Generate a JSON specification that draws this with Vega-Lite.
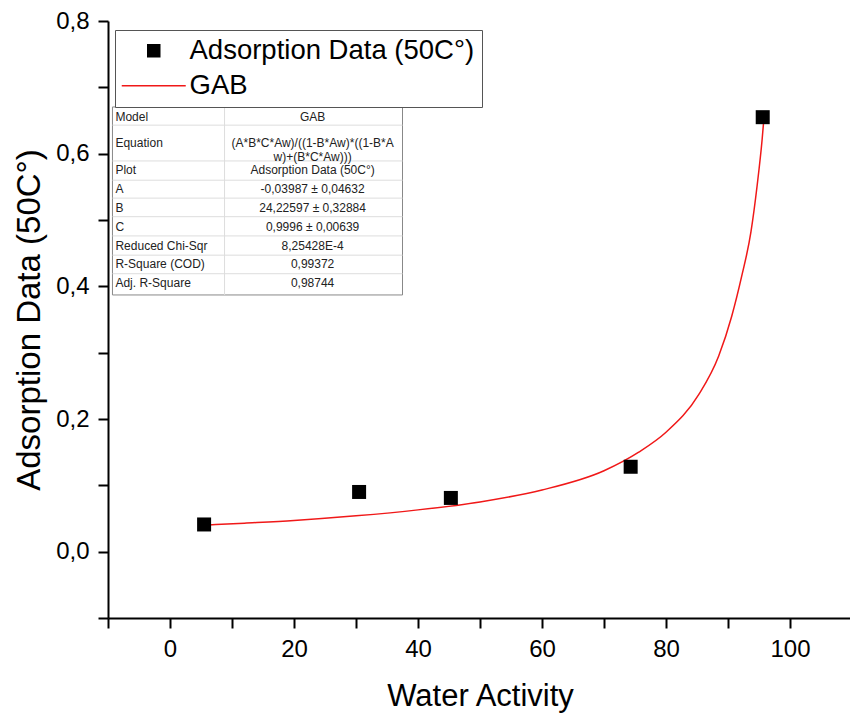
{
  "$schema": "https://vega.github.io/schema/vega-lite/v6.json",
  "width": 744,
  "height": 597,
  "autosize": {"type": "none"},
  "padding": {"left": 108, "top": 21, "right": 0, "bottom": 97},
  "background": "white",
  "config": {
    "view": {"stroke": null},
    "font": "Liberation Sans",
    "axis": {
      "domainColor": "black", "domainWidth": 2,
      "tickColor": "black", "tickWidth": 2, "tickSize": 10,
      "labelFontSize": 24, "titleFontSize": 31,
      "labelColor": "black", "titleColor": "black",
      "titleFontWeight": "normal", "grid": false,
      "labelFont": "Liberation Sans", "titleFont": "Liberation Sans",
      "labelFlush": false, "labelOverlap": false
    }
  },
  "layer": [
    {
      "data": {"values": [
        {"x": 5.6, "y": 0.040}, {"x": 12, "y": 0.043}, {"x": 20, "y": 0.047},
        {"x": 30, "y": 0.054}, {"x": 40, "y": 0.063}, {"x": 50, "y": 0.075},
        {"x": 60, "y": 0.093}, {"x": 70, "y": 0.122}, {"x": 75.6, "y": 0.150},
        {"x": 80, "y": 0.180}, {"x": 85.3, "y": 0.237}, {"x": 88.5, "y": 0.295},
        {"x": 90.6, "y": 0.355}, {"x": 92.2, "y": 0.415}, {"x": 93.7, "y": 0.482},
        {"x": 94.7, "y": 0.552}, {"x": 95.5, "y": 0.621}, {"x": 95.8, "y": 0.654}
      ]},
      "mark": {"type": "line", "strokeWidth": 1.5, "interpolate": "monotone"},
      "encoding": {
        "x": {
          "field": "x", "type": "quantitative",
          "scale": {"domain": [-10, 110], "nice": false, "zero": false},
          "axis": {
            "title": "Water Activity",
            "values": [-10, 0, 10, 20, 30, 40, 50, 60, 70, 80, 90, 100, 110],
            "labelExpr": "datum.value % 20 == 0 ? format(datum.value, 'd') : ''",
            "labelPadding": 9, "titlePadding": 20
          }
        },
        "y": {
          "field": "y", "type": "quantitative",
          "scale": {"domain": [-0.1, 0.8], "nice": false, "zero": false},
          "axis": {
            "title": "Adsorption Data (50C°)", "titleFontSize": 33,
            "values": [-0.1, 0, 0.1, 0.2, 0.3, 0.4, 0.5, 0.6, 0.7, 0.8],
            "labelExpr": "round(datum.value * 10) % 2 == 0 ? replace(format(datum.value, '.1f'), '.', ',') : ''",
            "labelPadding": 9, "titlePadding": 9
          }
        },
        "color": {
          "datum": "GAB",
          "scale": {"domain": ["Adsorption Data (50C°)", "GAB"], "range": ["black", "#f01818"]},
          "legend": {
            "title": null,
            "orient": "none", "legendX": 7, "legendY": 9,
            "strokeColor": "#555", "fillColor": "white",
            "padding": 7, "rowPadding": 6,
            "labelFontSize": 27.5, "labelLimit": 600, "labelColor": "black",
            "labelFont": "Liberation Sans",
            "symbolSize": 400, "symbolOffset": 18, "labelOffset": 22,
            "encode": {
              "symbols": {
                "update": {
                  "shape": {"signal": "datum.value == 'GAB' ? 'stroke' : 'square'"},
                  "size": {"signal": "datum.value == 'GAB' ? 4096 : 144"},
                  "fill": {"signal": "datum.value == 'GAB' ? 'transparent' : 'black'"},
                  "stroke": {"signal": "datum.value == 'GAB' ? '#f01818' : 'transparent'"},
                  "strokeWidth": {"value": 1.5},
                  "opacity": {"value": 1}
                }
              }
            }
          }
        }
      }
    },
    {
      "data": {"values": [
        {"x": 5.5, "y": 0.041}, {"x": 30.5, "y": 0.090}, {"x": 45.3, "y": 0.081},
        {"x": 74.3, "y": 0.128}, {"x": 95.6, "y": 0.655}
      ]},
      "mark": {"type": "point", "shape": "square", "filled": true, "size": 196, "opacity": 1},
      "encoding": {
        "x": {"field": "x", "type": "quantitative", "title": "Water Activity"},
        "y": {"field": "y", "type": "quantitative", "title": "Adsorption Data (50C°)"},
        "color": {"datum": "Adsorption Data (50C°)"}
      }
    },
    {
      "data": {"values": [{}]},
      "mark": {"type": "rect", "fill": "white", "stroke": "#888", "strokeWidth": 1},
      "encoding": {
        "x": {"datum": -9.28, "type": "quantitative"}, "x2": {"datum": 37.5},
        "y": {"datum": 0.6704, "type": "quantitative"}, "y2": {"datum": 0.387}
      }
    },
    {
      "data": {"values": [
        {"y": 0.643}, {"y": 0.589}, {"y": 0.560}, {"y": 0.533},
        {"y": 0.505}, {"y": 0.476}, {"y": 0.447}, {"y": 0.419}
      ]},
      "mark": {"type": "rule", "stroke": "#ddd", "strokeWidth": 1},
      "encoding": {
        "x": {"datum": -9.28, "type": "quantitative"}, "x2": {"datum": 37.5},
        "y": {"field": "y", "type": "quantitative", "title": "Adsorption Data (50C°)"}
      }
    },
    {
      "data": {"values": [{}]},
      "mark": {"type": "rule", "stroke": "#ddd", "strokeWidth": 1},
      "encoding": {
        "x": {"datum": 8.8, "type": "quantitative"},
        "y": {"datum": 0.6704, "type": "quantitative"}, "y2": {"datum": 0.387}
      }
    },
    {
      "data": {"values": [
        {"y": 0.6554, "t": "Model"}, {"y": 0.6162, "t": "Equation"},
        {"y": 0.5753, "t": "Plot"}, {"y": 0.5469, "t": "A"},
        {"y": 0.5183, "t": "B"}, {"y": 0.4897, "t": "C"},
        {"y": 0.4610, "t": "Reduced Chi-Sqr"}, {"y": 0.4339, "t": "R-Square (COD)"},
        {"y": 0.4053, "t": "Adj. R-Square"}
      ]},
      "mark": {"type": "text", "align": "left", "baseline": "middle", "fontSize": 12, "font": "Liberation Sans", "color": "#222"},
      "encoding": {
        "x": {"datum": -8.8, "type": "quantitative"},
        "y": {"field": "y", "type": "quantitative", "title": "Adsorption Data (50C°)"},
        "text": {"field": "t"}
      }
    },
    {
      "data": {"values": [
        {"y": 0.6554, "t": "GAB"},
        {"y": 0.6162, "t": "(A*B*C*Aw)/((1-B*Aw)*((1-B*A\nw)+(B*C*Aw)))"},
        {"y": 0.5753, "t": "Adsorption Data (50C°)"}, {"y": 0.5469, "t": "-0,03987 ± 0,04632"},
        {"y": 0.5183, "t": "24,22597 ± 0,32884"}, {"y": 0.4897, "t": "0,9996 ± 0,00639"},
        {"y": 0.4610, "t": "8,25428E-4"}, {"y": 0.4339, "t": "0,99372"},
        {"y": 0.4053, "t": "0,98744"}
      ]},
      "mark": {"type": "text", "align": "center", "baseline": "middle", "fontSize": 12, "font": "Liberation Sans", "color": "#222", "lineBreak": "\n", "lineHeight": 14},
      "encoding": {
        "x": {"datum": 23, "type": "quantitative"},
        "y": {"field": "y", "type": "quantitative", "title": "Adsorption Data (50C°)"},
        "text": {"field": "t"}
      }
    }
  ]
}
